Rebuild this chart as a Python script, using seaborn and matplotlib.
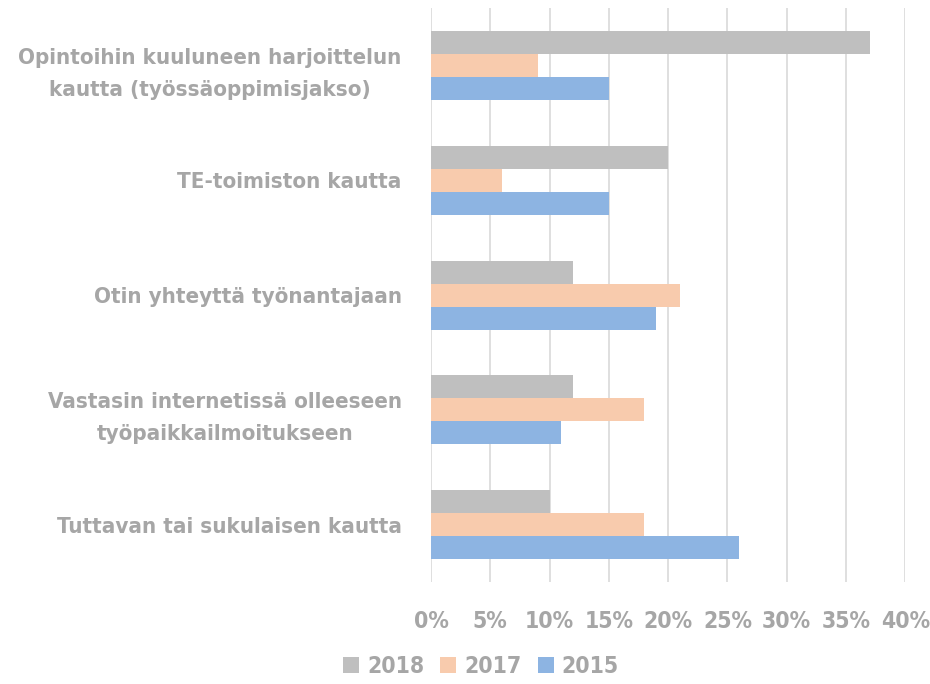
import pandas as pd
import matplotlib.pyplot as plt
import seaborn as sns

# kategoriat ylhäältä alas
kategoriat = [
    "Opintoihin kuuluneen harjoittelun\nkautta (työssäoppimisjakso)",
    "TE-toimiston kautta",
    "Otin yhteyttä työnantajaan",
    "Vastasin internetissä olleeseen\ntyöpaikkailmoitukseen",
    "Tuttavan tai sukulaisen kautta",
]
vuodet = ["2018", "2017", "2015"]
v2018 = [37, 20, 12, 12, 10]
v2017 = [9, 6, 21, 18, 18]
v2015 = [15, 15, 19, 11, 26]
varit = ["#BFBFBF", "#F8CBAD", "#8DB4E2"]
xtikit = [0, 5, 10, 15, 20, 25, 30, 35, 40]

df = pd.DataFrame({"kategoria": kategoriat * 3,
                   "vuosi": [v for v in vuodet for _ in kategoriat],
                   "arvo": v2018 + v2017 + v2015})

sns.set_style("white")
plt.rcParams["font.family"] = ["DejaVu Sans"]
plt.rcParams["font.stretch"] = "condensed"
harmaa = "#A6A6A6"

fig = plt.figure(figsize=(9.3, 6.84), dpi=100)
ax = fig.add_axes([0.4634, 0.149, 0.51, 0.839])
sns.barplot(data=df, y="kategoria", x="arvo", hue="vuosi", hue_order=vuodet,
            palette=varit, orient="h", width=0.6, saturation=1,
            linewidth=0, ax=ax)

ax.set_xlim(0, 40)
ax.set_xticks(xtikit)
ax.set_xticklabels([f"{t}%" for t in xtikit])
ax.grid(axis="x", color="#D9D9D9", linewidth=1.2)
ax.set_axisbelow(True)
for s in ax.spines.values():
    s.set_visible(False)
ax.set_xlabel("")
ax.set_ylabel("")
ax.tick_params(axis="both", length=0, colors=harmaa, labelsize=16)
ax.tick_params(axis="x", pad=20, labelsize=16.5)
ax.tick_params(axis="y", pad=21)
for lab in ax.get_yticklabels() + ax.get_xticklabels():
    lab.set_fontweight("bold")
    lab.set_fontstretch("condensed")
    lab.set_color(harmaa)
for lab in ax.get_yticklabels():
    lab.set_multialignment("center")
    lab.set_linespacing(1.75)

handles, labels = ax.get_legend_handles_labels()
ax.legend_.remove()
leg = fig.legend(handles, labels, loc="center", bbox_to_anchor=(0.517, 0.025),
                 ncol=3, frameon=False, handlelength=0.7, handleheight=0.7,
                 columnspacing=0.7, handletextpad=0.35,
                 prop={"weight": "bold", "size": 16.5, "stretch": "condensed"})
for t in leg.get_texts():
    t.set_color(harmaa)

fig.savefig("out.png", dpi=100)
